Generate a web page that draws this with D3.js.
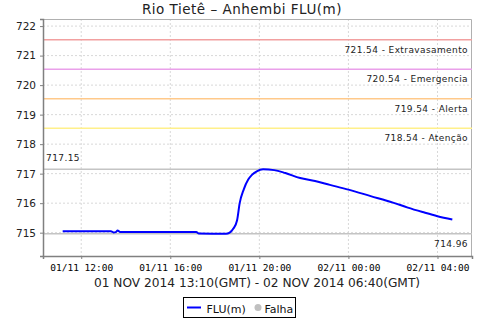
<head>
	<script src="https://d3js.org/d3.v7.min.js"></script>
	<style type="text/css">
		body { margin:0; background:#fff; }
		text { font-family: "DejaVu Sans", sans-serif; }
	</style>
</head>
<body>
	<script type="text/javascript">
		// local time (GMT-2), drawn as utc so the tick labels read as in the picture
		const times = ['2014-11-01 11:10','2014-11-01 13:20','2014-11-01 13:27','2014-11-01 13:33','2014-11-01 13:38','2014-11-01 13:45',
			'2014-11-01 17:10','2014-11-01 17:17','2014-11-01 18:30','2014-11-01 18:40','2014-11-01 18:50','2014-11-01 19:00',
			'2014-11-01 19:07','2014-11-01 19:18','2014-11-01 19:30','2014-11-01 19:40','2014-11-01 19:53','2014-11-01 20:10',
			'2014-11-01 20:40','2014-11-01 21:10','2014-11-01 21:50','2014-11-01 22:30','2014-11-01 23:10','2014-11-02 00:00',
			'2014-11-02 01:00','2014-11-02 02:00','2014-11-02 02:40','2014-11-02 03:20','2014-11-02 04:00','2014-11-02 04:40']
		const levels = [715.05,715.05,715.01,715.02,715.07,715.02,
			715.02,714.97,714.96,715.0,715.14,715.42,
			716.0,716.47,716.8,716.96,717.08,717.15,
			717.12,717.02,716.85,716.75,716.62,716.46,
			716.24,716.02,715.85,715.70,715.56,715.45]
		const markers = [721.54, 720.54, 719.54, 718.54]
		const markerNames = ['Extravasamento','Emergencia','Alerta','Atenção']
		const markerColors = ['#f2a0a0','#eaa0ea','#ffc98a','#fff08a']
		const maxLevel = 717.15, minLevel = 714.96
		const yTicks = [715,716,717,718,719,720,721,722]

		const W = 480, H = 320
		const margin = {top:19, right:8, bottom:64, left:43}
		const width = W - margin.left - margin.right,
			  height = H - margin.top - margin.bottom

		const parse = d3.utcParse('%Y-%m-%d %H:%M')
		const data = times.map((t,i) => ({t: parse(t), v: levels[i]}))

		const svg = d3.select('body').append('svg')
				.attr('width', W)
				.attr('height', H)

		svg.append('text')
			.attr('x', 242).attr('y', 13.5)
			.attr('text-anchor', 'middle')
			.style('font-size', '13.5px').style('letter-spacing', '0.5px')
			.style('fill', '#222')
			.text('Rio Tietê – Anhembi FLU(m)')

		const g = svg.append('g')
				.attr('transform', 'translate('+margin.left+','+margin.top+')')

		const x = d3.scaleUtc()
			.domain([parse('2014-11-01 10:17'), parse('2014-11-02 05:33')])
			.range([0, width])
		const y = d3.scaleLinear()
			.domain([714.21, 722.24])
			.range([height, 0])

		const xTicks = x.ticks(d3.utcHour.every(4))

		// grid
		g.selectAll('.hgrid').data(yTicks).enter().append('line')
			.attr('x1', 0).attr('x2', width)
			.attr('y1', d => y(d)).attr('y2', d => y(d))
			.style('stroke', '#d8d8d8').style('stroke-dasharray', '2,2')
		g.selectAll('.vgrid').data(xTicks).enter().append('line')
			.attr('x1', d => x(d)).attr('x2', d => x(d))
			.attr('y1', 0).attr('y2', height)
			.style('stroke', '#d8d8d8').style('stroke-dasharray', '2,2')

		// border top / right
		g.append('path')
			.attr('d', 'M0,0.5H'+(width-0.5)+'V'+height)
			.style('fill', 'none').style('stroke', '#b0b0b0')

		// threshold markers
		g.selectAll('.marker').data(markers).enter().append('line')
			.attr('x1', 0).attr('x2', width)
			.attr('y1', d => y(d)).attr('y2', d => y(d))
			.style('stroke', (d,i) => markerColors[i]).style('stroke-width', 1.5)
		g.selectAll('.mlabel').data(markers).enter().append('text')
			.attr('x', width - 4).attr('y', d => y(d) + 13)
			.attr('text-anchor', 'end')
			.style('font-size', '9px').style('letter-spacing', '0.4px')
			.style('fill', '#222')
			.text((d,i) => d.toFixed(2) + ' - ' + markerNames[i])

		// max / min lines
		g.selectAll('.ext').data([maxLevel, minLevel]).enter().append('line')
			.attr('x1', 0).attr('x2', width)
			.attr('y1', d => y(d)).attr('y2', d => y(d))
			.style('stroke', '#c4c4c4').style('stroke-width', 1.5)
		g.append('text')
			.attr('x', 3).attr('y', y(maxLevel) - 8)
			.style('font-size', '9px').style('letter-spacing', '0.4px').style('fill', '#222')
			.text(maxLevel.toFixed(2))
		g.append('text')
			.attr('x', width - 4).attr('y', y(minLevel) + 13)
			.attr('text-anchor', 'end')
			.style('font-size', '9px').style('letter-spacing', '0.4px').style('fill', '#222')
			.text(minLevel.toFixed(2))

		// series
		const line = d3.line().x(d => x(d.t)).y(d => y(d.v)).curve(d3.curveMonotoneX)
		g.append('path')
			.datum(data)
			.attr('d', line)
			.style('fill', 'none').style('stroke', '#0000ff').style('stroke-width', 2)

		// axes
		const yAxis = g.append('g')
			.call(d3.axisLeft(y).tickValues(yTicks).tickSize(3).tickPadding(4).tickFormat(d3.format('d')))
		yAxis.select('.domain').style('stroke', '#808080').style('stroke-width', 1.5)
		yAxis.selectAll('.tick line').style('stroke', '#808080')
		yAxis.selectAll('text').style('font-size', '10.5px').style('fill', '#222')

		const xAxis = g.append('g')
			.attr('transform', 'translate(0,'+height+')')
			.call(d3.axisBottom(x).tickValues(xTicks).tickSize(3).tickPadding(5).tickFormat(d3.utcFormat('%d/%m %H:%M')))
		xAxis.select('.domain').style('stroke', '#808080').style('stroke-width', 1.5)
		xAxis.selectAll('.tick line').style('stroke', '#808080')
		xAxis.selectAll('text').style('font-family', '"DejaVu Sans Mono", monospace').style('font-size', '9.5px').style('fill', '#000')

		svg.append('text')
			.attr('x', 257).attr('y', 287)
			.attr('text-anchor', 'middle')
			.style('font-size', '12.2px').style('fill', '#222')
			.text('01 NOV 2014 13:10(GMT) - 02 NOV 2014 06:40(GMT)')

		// legend
		const lg = svg.append('g').attr('transform', 'translate(183.5,297.5)')
		lg.append('rect').attr('width', 112).attr('height', 20)
			.style('fill', '#fff').style('stroke', '#000')
		lg.append('line').attr('x1', 3.5).attr('x2', 17.5).attr('y1', 10).attr('y2', 10)
			.style('stroke', '#0000ff').style('stroke-width', 2)
		lg.append('text').attr('x', 23).attr('y', 15)
			.style('font-size', '11px').style('fill', '#111').text('FLU(m)')
		lg.append('circle').attr('cx', 74.5).attr('cy', 10).attr('r', 3.5)
			.style('fill', '#c0c0c0')
		lg.append('text').attr('x', 81).attr('y', 15)
			.style('font-size', '11px').style('fill', '#111').text('Falha')
	</script>
</body>
